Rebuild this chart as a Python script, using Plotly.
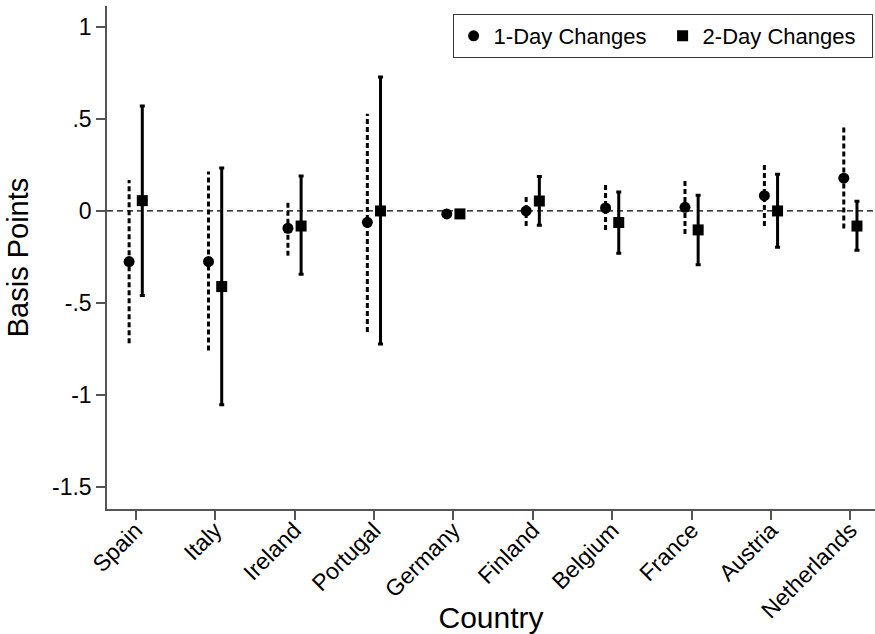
import plotly.graph_objects as go

# Estimated effects (basis points) with confidence bounds, by country
countries = ["Spain", "Italy", "Ireland", "Portugal", "Germany",
             "Finland", "Belgium", "France", "Austria", "Netherlands"]

one_day = [-0.275, -0.275, -0.094, -0.062, -0.016, 0.000, 0.016, 0.020, 0.083, 0.178]
one_day_lo = [-0.719, -0.759, -0.243, -0.658, -0.024, -0.082, -0.103, -0.125, -0.082, -0.096]
one_day_hi = [0.168, 0.214, 0.056, 0.529, -0.008, 0.078, 0.141, 0.168, 0.250, 0.453]

two_day = [0.056, -0.411, -0.082, 0.000, -0.016, 0.054, -0.063, -0.103, 0.000, -0.082]
two_day_lo = [-0.460, -1.054, -0.344, -0.723, -0.024, -0.078, -0.230, -0.293, -0.197, -0.214]
two_day_hi = [0.571, 0.234, 0.190, 0.728, -0.008, 0.187, 0.103, 0.085, 0.199, 0.053]

y_ticks = [1, 0.5, 0, -0.5, -1, -1.5]
y_tick_text = ["1", ".5", "0", "-.5", "-1", "-1.5"]

FONT = "Liberation Sans, Arial, sans-serif"
AXIS_GREY = "#555555"
offset = 0.083

pos = list(range(1, len(countries) + 1))
x1 = [p - offset for p in pos]
x2 = [p + offset for p in pos]

# dashed interval segments for the 1-day estimates
seg_x, seg_y = [], []
for x, lo, hi in zip(x1, one_day_lo, one_day_hi):
    seg_x += [x, x, None]
    seg_y += [lo, hi, None]

fig = go.Figure()

fig.add_trace(go.Scatter(
    x=seg_x, y=seg_y, mode="lines",
    line=dict(color="black", width=3, dash="5px,3px"),
    showlegend=False, hoverinfo="skip",
))

fig.add_trace(go.Scatter(
    x=x1, y=one_day, mode="markers", name="1-Day Changes",
    marker=dict(symbol="circle", size=11, color="black"),
))

fig.add_trace(go.Scatter(
    x=x2, y=two_day, mode="markers", name="2-Day Changes",
    marker=dict(symbol="square", size=11, color="black"),
    error_y=dict(
        type="data", symmetric=False,
        array=[h - v for h, v in zip(two_day_hi, two_day)],
        arrayminus=[v - l for v, l in zip(two_day, two_day_lo)],
        color="black", thickness=3, width=2.5,
    ),
))

# reference line at zero
fig.add_shape(
    type="line", xref="paper", x0=0, x1=1, yref="y", y0=0, y1=0,
    line=dict(color="black", width=1.3, dash="6px,4px"), layer="below",
)

fig.update_layout(
    width=875, height=634,
    margin=dict(l=107, r=0, t=6, b=125, autoexpand=False),
    paper_bgcolor="white", plot_bgcolor="white",
    font=dict(family=FONT, color="black"),
    showlegend=True,
    legend=dict(
        orientation="h", x=0.450, xanchor="left", y=0.984, yanchor="top",
        bordercolor="#333333", borderwidth=1, bgcolor="white",
        font=dict(size=22, family=FONT), entrywidth=164,
    ),
)

fig.update_xaxes(
    range=[0.6385, 10.31], tickmode="array", tickvals=pos, ticktext=countries,
    tickangle=-45, tickfont=dict(size=23), automargin=False,
    ticklabelstandoff=-12,
    showline=True, linecolor=AXIS_GREY, linewidth=1.5,
    ticks="outside", ticklen=9, tickwidth=1.5, tickcolor=AXIS_GREY,
    showgrid=False, zeroline=False,
    title=dict(text="Country", font=dict(size=30)),
)

fig.update_yaxes(
    range=[-1.62, 1.114], tickmode="array", tickvals=y_ticks, ticktext=y_tick_text,
    tickfont=dict(size=23), automargin=False,
    showline=True, linecolor=AXIS_GREY, linewidth=1.5,
    ticks="outside", ticklen=9, tickwidth=1.5, tickcolor=AXIS_GREY,
    showgrid=False, zeroline=False,
    title=dict(text="Basis Points", font=dict(size=29)),
)

fig.write_html("out.html")
